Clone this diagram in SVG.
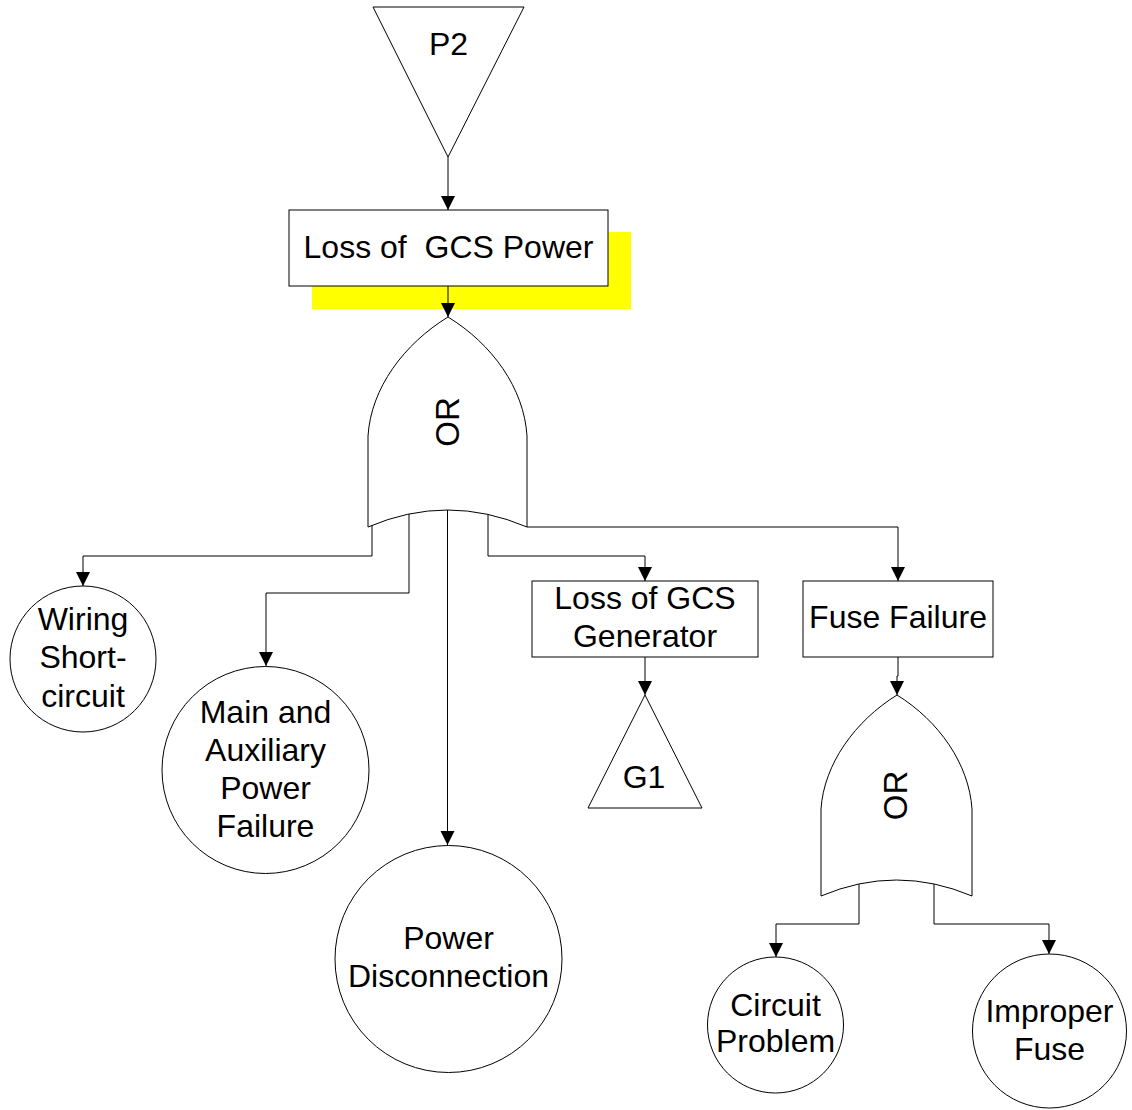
<svg xmlns="http://www.w3.org/2000/svg" width="1132" height="1110" viewBox="0 0 1132 1110">
  <style>
    .shape { fill: #ffffff; stroke: #000000; stroke-width: 1; }
    .wire { fill: none; stroke: #000000; stroke-width: 1; }
    .label { font-family: "Liberation Sans", Arial, sans-serif; font-size: 32px; fill: #000000; text-anchor: middle; }
    .gate { font-size: 33px; }
  </style>
  <defs>
    <marker id="arrow" markerUnits="userSpaceOnUse" markerWidth="16" markerHeight="16" refX="14" refY="7" orient="auto">
      <path d="M0,0 L14,7 L0,14 z" fill="#000000"/>
    </marker>
  </defs>

  <rect width="1132" height="1110" fill="#ffffff"/>

  <!-- transfer-in triangle P2 -->
  <g id="transfer-p2">
    <polygon class="shape" points="373,7 524,7 448,157"/>
    <text class="label" x="448.5" y="55">P2</text>
  </g>

  <!-- top event with highlight band -->
  <g id="loss-of-gcs-power">
    <rect x="312" y="232" width="319" height="77" fill="#ffff00"/>
    <rect class="shape" x="289" y="210" width="319" height="76"/>
    <text class="label" x="448.5" y="258" xml:space="preserve">Loss of  GCS Power</text>
  </g>

  <!-- main OR gate -->
  <g id="or-gate-main">
    <path class="shape" d="M448,317 C404,344 371,388 368,436 L368,527 Q447.5,493 527,527 L527,436 C524,388 492,344 448,317 z"/>
    <text class="label gate" transform="translate(459,422) rotate(-90)">OR</text>
  </g>

  <g id="wiring-short-circuit">
    <circle class="shape" cx="83" cy="659" r="73"/>
    <text class="label" x="83" y="630">Wiring</text>
    <text class="label" x="83" y="668">Short-</text>
    <text class="label" x="83" y="707">circuit</text>
  </g>

  <g id="main-aux-power-failure">
    <circle class="shape" cx="265.5" cy="770" r="103.5"/>
    <text class="label" x="265.5" y="723">Main and</text>
    <text class="label" x="265.5" y="761">Auxiliary</text>
    <text class="label" x="265.5" y="799">Power</text>
    <text class="label" x="265.5" y="837">Failure</text>
  </g>

  <g id="power-disconnection">
    <circle class="shape" cx="448.5" cy="959" r="113.5"/>
    <text class="label" x="448.5" y="949">Power</text>
    <text class="label" x="448.5" y="987">Disconnection</text>
  </g>

  <g id="loss-of-gcs-generator">
    <rect class="shape" x="532" y="581" width="226" height="76"/>
    <text class="label" x="645" y="609">Loss of GCS</text>
    <text class="label" x="645" y="647">Generator</text>
  </g>

  <!-- transfer-out triangle G1 -->
  <g id="transfer-g1">
    <polygon class="shape" points="645,695 702,808 588,808"/>
    <text class="label" x="644" y="788">G1</text>
  </g>

  <g id="fuse-failure">
    <rect class="shape" x="803" y="581" width="190" height="76"/>
    <text class="label" x="898" y="628">Fuse Failure</text>
  </g>

  <!-- fuse OR gate -->
  <g id="or-gate-fuse">
    <path class="shape" d="M897,695 C855,721 824,764 821,809 L821,896 Q896.5,864 972,896 L972,809 C969,764 939,721 897,695 z"/>
    <text class="label gate" transform="translate(907,795.5) rotate(-90)">OR</text>
  </g>

  <g id="circuit-problem">
    <circle class="shape" cx="775.5" cy="1025" r="68"/>
    <text class="label" x="775.5" y="1016">Circuit</text>
    <text class="label" x="775.5" y="1052">Problem</text>
  </g>

  <g id="improper-fuse">
    <circle class="shape" cx="1049.5" cy="1031" r="77"/>
    <text class="label" x="1049.5" y="1022">Improper</text>
    <text class="label" x="1049.5" y="1060">Fuse</text>
  </g>

  <!-- connectors -->
  <g id="connectors">
    <path class="wire" d="M448,157 V210" marker-end="url(#arrow)"/>
    <path class="wire" d="M448,286 V317" marker-end="url(#arrow)"/>
    <path class="wire" d="M372,525 V556 H83 V586" marker-end="url(#arrow)"/>
    <path class="wire" d="M409,514 V593 H266 V666" marker-end="url(#arrow)"/>
    <path class="wire" d="M447.5,510 V845" marker-end="url(#arrow)"/>
    <path class="wire" d="M488,514 V556 H645 V581" marker-end="url(#arrow)"/>
    <path class="wire" d="M527,527 H898 V581" marker-end="url(#arrow)"/>
    <path class="wire" d="M645,657 V695" marker-end="url(#arrow)"/>
    <path class="wire" d="M898,657 V676 H897 V695" marker-end="url(#arrow)"/>
    <path class="wire" d="M859,884 V924 H776 V957" marker-end="url(#arrow)"/>
    <path class="wire" d="M934,884 V924 H1049 V954" marker-end="url(#arrow)"/>
  </g>
</svg>
